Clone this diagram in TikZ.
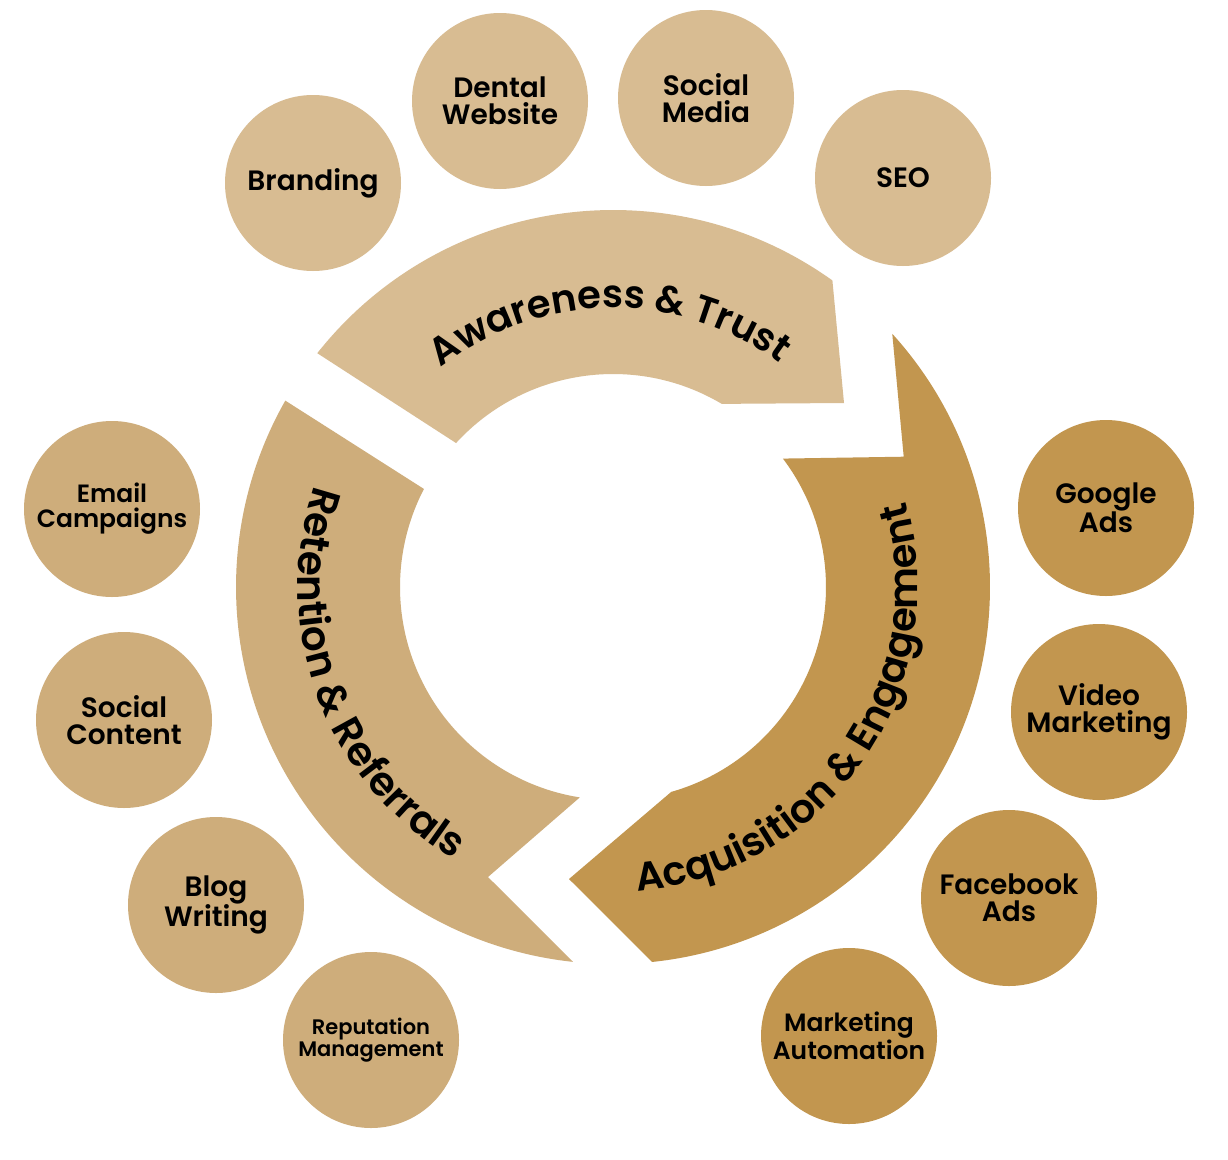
\documentclass[tikz,border=0pt]{standalone}
\usepackage{fontspec}
\setmainfont{Poppins}[BoldFont={* SemiBold}]
\usetikzlibrary{decorations.text,calc}
\definecolor{ctop}{RGB}{216,188,146}
\definecolor{cleft}{RGB}{206,173,123}
\definecolor{cright}{RGB}{194,150,79}
\begin{document}
\begin{tikzpicture}[x=1pt,y=1pt,
  bub/.style={circle, minimum size=176pt, inner sep=0pt, align=center, text=black,
              font=\bfseries\fontsize{28}{27}\selectfont},
  arctext/.style={decorate, decoration={text along path, text align=center, text={#1}}}
]
\useasboundingbox (0,0) rectangle (1228,-1159);
\fill[white] (0,0) rectangle (1228,-1159);
\coordinate (C) at (613,-587);

% ring segments
\fill[ctop] ($(C)+(141.67:377)$) arc[start angle=141.67, end angle=54.41, radius=377]
  -- (844,-403) -- ($(C)+(59.29:213)$) arc[start angle=59.29, end angle=137.47, radius=213] -- cycle;
\fill[cright] ($(C)+(42.2:377)$) arc[start angle=42.2, end angle=-84.05, radius=377]
  -- (569,-879) -- ($(C)+(-74.13:213)$) arc[start angle=-74.13, end angle=37.08, radius=213]
  -- (903.7,-456.7) -- cycle;
\fill[cleft] ($(C)+(263.9:377)$) arc[start angle=263.9, end angle=150.37, radius=377]
  -- ($(C)+(152.59:213)$) arc[start angle=152.59, end angle=261.03, radius=213]
  -- (488,-877) -- cycle;

% curved labels
\path[arctext={|\bfseries\fontsize{38.5}{38.5}\selectfont|Awareness {\&} Trust}]
  ($(C)+(150.7:279)$) arc[start angle=150.7, end angle=30.7, radius=279];
\path[arctext={|\bfseries\fontsize{40.5}{40.5}\selectfont|Retention {\&} Referrals}]
  ($(C)+(140.5:315)$) arc[start angle=140.5, end angle=260.5, radius=315];
\path[arctext={|\bfseries\fontsize{40}{40}\selectfont|Acquisition {\&} Engagement}]
  ($(C)+(255.4:305)$) arc[start angle=255.4, end angle=395.4, radius=305];

% top bubbles
\node[bub, fill=ctop] (branding) at (313,-183) {Branding};
\node[bub, fill=ctop] (dental) at (500,-101) {Dental\\Website};
\node[bub, fill=ctop] (social) at (706,-98) {Social\\Media};
\node[bub, fill=ctop] (seo) at (903,-178) {SEO};
% left bubbles
\node[bub, fill=cleft, font=\bfseries\fontsize{25}{25}\selectfont] (email) at (112,-509) {Email\\Campaigns};
\node[bub, fill=cleft] (content) at (124,-720) {Social\\Content};
\node[bub, fill=cleft] (blog) at (216,-905) {Blog\\Writing};
\node[bub, fill=cleft, font=\bfseries\fontsize{21}{22}\selectfont] (reput) at (371,-1040) {Reputation\\Management};
% right bubbles
\node[bub, fill=cright] (google) at (1106,-508) {Google\\Ads};
\node[bub, fill=cright] (video) at (1099,-712) {Video\\Marketing};
\node[bub, fill=cright] (facebook) at (1009,-898) {Facebook\\Ads};
\node[bub, fill=cright, font=\bfseries\fontsize{25}{24}\selectfont] (auto) at (849,-1036) {Marketing\\Automation};
\end{tikzpicture}
\end{document}
